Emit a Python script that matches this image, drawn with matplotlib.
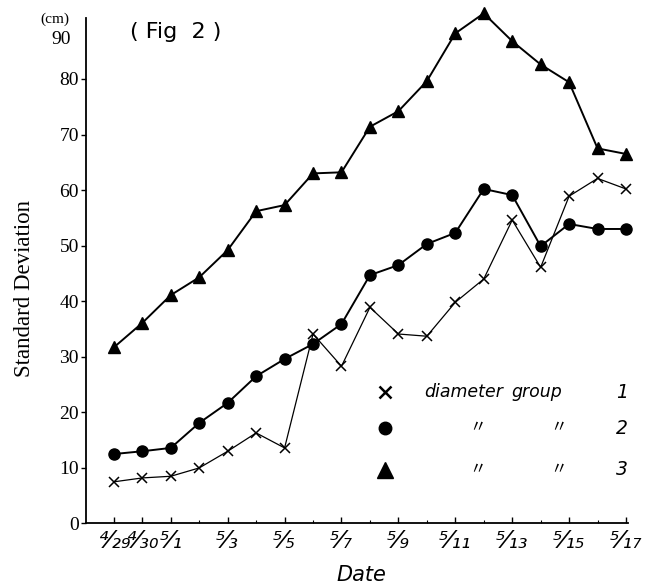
import matplotlib
matplotlib.use("Agg")
import matplotlib.pyplot as plt
import numpy as np

# days counted from 4/29 (0) to 5/17 (18)
days = np.arange(19)

# standard deviation (cm)
group1 = [7.5, 8.2, 8.5, 10.0, 13.0, 16.3, 13.6, 34.1, 28.3, 38.9,
          34.1, 33.7, 39.8, 44.0, 54.6, 46.1, 58.9, 62.1, 60.2]
group2 = [12.5, 13.0, 13.6, 18.1, 21.7, 26.5, 29.6, 32.3, 35.9, 44.7,
          46.5, 50.3, 52.3, 60.2, 59.1, 49.9, 53.9, 53.0, 53.0]
group3 = [31.7, 36.1, 41.1, 44.3, 49.2, 56.2, 57.3, 63.0, 63.2, 71.4,
          74.2, 79.6, 88.2, 91.8, 86.8, 82.6, 79.4, 67.5, 66.5]

tick_days = [0, 1, 2, 4, 6, 8, 10, 12, 14, 16, 18]
tick_num = ["4", "4", "5", "5", "5", "5", "5", "5", "5", "5", "5"]
tick_den = ["29", "30", "1", "3", "5", "7", "9", "11", "13", "15", "17"]
yticks = [0, 10, 20, 30, 40, 50, 60, 70, 80]

hand = ["DejaVu Sans", "Noto Sans CJK JP"]
cjk = ["Noto Sans CJK JP", "DejaVu Sans"]
serif = "Liberation Serif"

sup = str.maketrans("0123456789", "\u2070\u00b9\u00b2\u00b3\u2074\u2075\u2076\u2077\u2078\u2079")
sub = str.maketrans("0123456789", "\u2080\u2081\u2082\u2083\u2084\u2085\u2086\u2087\u2088\u2089")

fig = plt.figure(figsize=(6.53, 5.88), dpi=100)
ax = fig.add_axes([0.1317, 0.1097, 0.830, 0.860])

ax.plot(days, group1, color="black", lw=0.9, marker="x", ms=7, mew=1.1, clip_on=False)
ax.plot(days, group2, color="black", lw=1.4, marker="o", ms=8, clip_on=False)
ax.plot(days, group3, color="black", lw=1.4, marker="^", ms=9, clip_on=False)

ax.set_xlim(-0.98, 18.07)
ax.set_ylim(0, 91)
for s in ["top", "right"]:
    ax.spines[s].set_visible(False)
for s in ["left", "bottom"]:
    ax.spines[s].set_linewidth(1.3)

ax.set_yticks(yticks)
ax.set_yticklabels([str(v) for v in yticks], fontfamily=serif, fontsize=14)
ax.tick_params(axis="y", direction="out", length=3.5, width=1, pad=1.5)

# slanted hand written fractions as tick labels (4/29 -> ⁴⁄₂₉)
frac = [n.translate(sup) + "\u2044" + m.translate(sub) for n, m in zip(tick_num, tick_den)]
ax.set_xticks(tick_days)
ax.set_xticklabels(frac, fontsize=17, fontfamily=hand, style="italic")
ax.set_xticks(days, minor=True)
ax.tick_params(axis="x", direction="in", length=4, width=1, pad=4)
ax.tick_params(axis="x", which="minor", direction="in", length=2, width=0.8)

fig.text(0.554, 0.022, "Date", ha="center", va="center", fontsize=15,
         fontfamily=hand, style="italic")
fig.text(0.038, 0.51, "Standard Deviation", rotation=90, ha="center", va="center",
         fontsize=16.5, fontfamily=serif)
fig.text(0.108, 0.932, "90", ha="right", va="center", fontsize=14, fontfamily=serif)
fig.text(0.107, 0.968, "(cm)", ha="right", va="center", fontsize=11, fontfamily=serif)
fig.text(0.199, 0.946, "( Fig  2 )", ha="left", va="center", fontsize=16, fontfamily=hand)

# legend drawn by hand as in the original
leg_x = 0.590
ys = [0.333, 0.272, 0.201]
ax.plot([leg_x], [ys[0]], transform=fig.transFigure, marker="x", ms=9, mew=1.8,
        color="black", clip_on=False)
ax.plot([leg_x], [ys[1]], transform=fig.transFigure, marker="o", ms=9,
        color="black", clip_on=False)
ax.plot([leg_x], [ys[2]], transform=fig.transFigure, marker="^", ms=11,
        color="black", clip_on=False)

fig.text(0.710, ys[0], "diameter", ha="center", va="center", fontsize=12.5,
         fontfamily=hand, style="italic")
fig.text(0.822, ys[0], "group", ha="center", va="center", fontsize=12.5,
         fontfamily=hand, style="italic")
for y in ys[1:]:
    fig.text(0.732, y, "\u3003", ha="center", va="center", fontsize=12, fontfamily=cjk)
    fig.text(0.856, y, "\u3003", ha="center", va="center", fontsize=12, fontfamily=cjk)
for c, y in zip(["1", "2", "3"], ys):
    fig.text(0.953, y, c, ha="center", va="center", fontsize=13.5, fontfamily=hand, style="italic")

fig.savefig("out.png", dpi=100, facecolor="white")
